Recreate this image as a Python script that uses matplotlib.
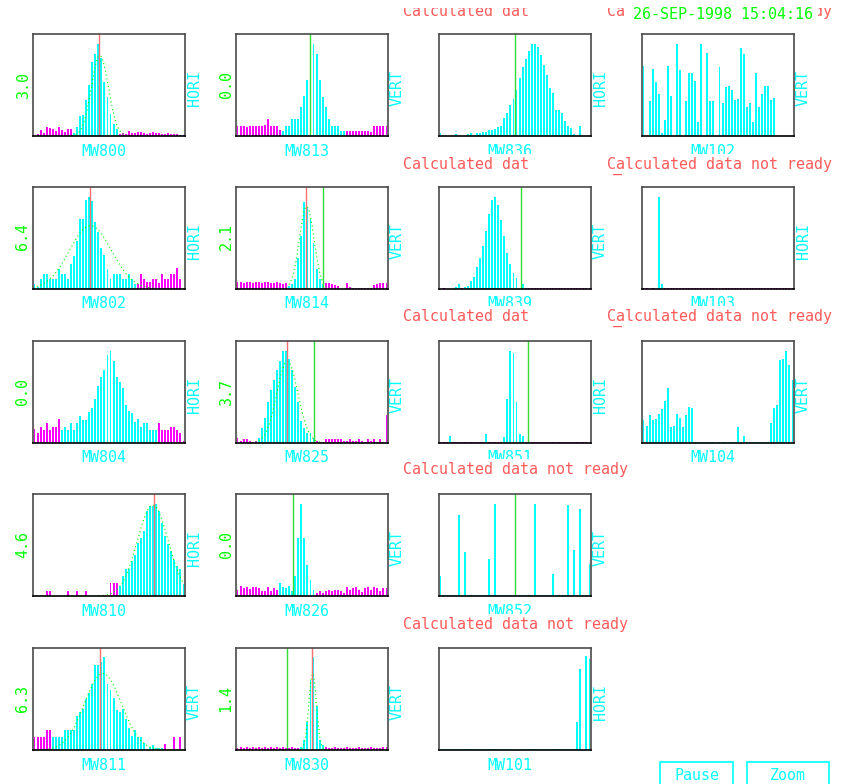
import numpy as np
import matplotlib.pyplot as plt
from matplotlib.patches import Rectangle

W, H = 848, 784
CYAN, MAGENTA, GREEN, RED = '#00ffff', '#ff00ff', '#00ff00', '#ff5a5a'
FONT = 'DejaVu Sans Mono'
FS = 10.8

# bin contents, % of panel height, 50 bins per monitor
MW800 = [0,2,6,3,9,8,7,5,9,6, 4,7,7,3,9,20,21,35,50,73, 80,90,76,53,38,22,12,7,2,3,
         2,5,3,3,4,4,3,2,3,4, 3,3,2,2,3,2,2,2,1,1]
MW802 = [5,2,10,15,15,10,10,10,20,15, 15,10,25,32,47,69,69,87,90,86, 66,56,40,33,20,10,15,15,15,10,
         10,15,10,5,5,15,10,7,7,10, 10,6,15,10,10,15,15,21,10,0]
MW804 = [14,10,16,13,20,13,16,16,24,13, 16,13,20,13,20,26,23,23,30,34, 43,56,65,72,86,90,80,65,60,54,
         37,31,29,21,24,16,20,20,13,13, 13,20,13,13,13,16,16,13,10,2]
MW810 = [0,0,0,0,5,5,0,0,0,0, 0,5,0,0,5,0,0,5,0,0, 0,0,0,0,0,13,13,13,10,20,
         26,26,34,40,52,57,64,83,88,88, 90,83,72,59,51,44,35,29,26,12]
MW811 = [13,13,13,13,20,20,13,13,13,13, 20,20,20,20,33,37,40,50,56,65, 83,83,86,91,65,59,51,39,37,40,
         30,22,14,20,13,13,7,0,3,5, 2,2,2,6,0,0,13,0,13,0]
MW813 = [10,10,10,9,10,10,10,10,10,11, 17,10,10,10,6,5,10,10,17,17, 17,28,39,55,84,90,80,55,38,28,
         17,10,10,10,5,5,5,5,5,5, 5,5,5,5,4,10,10,10,10,10]
MW814 = [7,7,6,7,7,6,7,7,6,7, 7,6,6,7,6,5,6,3,5,10, 30,52,85,80,69,45,20,10,5,6,
         6,5,4,3,0,0,6,2,1,1, 1,1,1,1,1,4,5,6,6,6]
MW825 = [5,2,4,4,2,1,2,5,15,25, 40,52,62,72,80,90,90,82,72,55, 40,22,15,10,10,5,2,1,1,4,
         4,4,4,4,4,2,2,4,2,2, 4,2,1,4,2,4,1,4,1,27]
MW826 = [6,10,8,9,7,9,9,8,5,5, 9,5,8,6,13,9,8,10,5,20, 57,90,57,30,16,6,3,5,3,5,
         6,5,6,6,5,3,9,6,8,9, 6,4,8,9,6,9,8,5,8,8]
MW830 = [2,3,2,3,2,3,2,3,2,3, 2,3,2,3,2,3,2,2,3,2, 2,3,10,27,69,91,43,10,5,3,
         2,2,3,2,2,2,3,2,2,2, 3,2,2,2,3,2,2,2,3,3]
MW836 = [3,0,0,0,0,2,0,0,0,2, 3,0,3,3,4,4,6,6,7,9, 10,18,23,30,36,45,57,68,75,83,
         90,90,87,79,70,60,47,42,25,25, 23,15,10,8,2,0,10,0,0,0]
MW839 = [0,1,0,0,0,2,5,1,2,3, 8,12,22,30,42,57,74,87,90,82, 68,52,35,25,16,11,0,5,1,1,
         1,1,1,1,1,1,1,1,1,1, 1,1,1,1,1,1,1,1,1,1]
MW851 = [1,1,1,7,1,1,1,1,1,1, 1,1,1,1,1,9,1,1,1,1, 1,6,43,90,88,40,9,7,1,1,
         1,1,1,1,1,1,1,1,1,1, 1,1,1,1,1,1,1,1,1,0]
MW852 = [20,1,1,1,1,1,79,1,43,1, 1,1,1,1,1,1,36,1,90,1, 1,1,1,1,1,1,1,1,1,1,
         1,90,1,1,1,1,1,22,1,1, 1,1,89,1,45,1,85,1,1,31]
MW101 = [1,1,1,1,1,1,1,1,1,1, 1,1,1,1,1,1,1,1,1,1, 1,1,1,1,1,1,1,1,1,1,
         1,1,1,1,1,1,1,1,1,1, 1,1,1,1,1,27,79,0,92,89]
MW102 = [69,0,34,66,53,41,3,16,69,39, 0,90,65,0,34,62,62,54,14,90, 0,81,34,34,0,68,32,48,49,45,
         35,36,86,80,28,32,14,62,28,41, 49,49,35,37,0,0,0,0,0,0]
MW103 = [1,1,0,1,0,90,5,1,1,1, 1,1,1,1,1,1,1,1,1,1, 1,1,1,1,1,1,1,1,1,1,
         1,1,1,1,1,1,1,1,1,1, 1,1,1,1,1,1,1,1,1,1]
MW104 = [23,17,27,23,24,28,33,41,54,16, 17,28,25,16,27,35,34,1,1,1, 1,1,1,1,1,1,1,1,1,1,
         1,16,1,7,1,1,1,1,1,1, 1,1,20,34,37,81,82,90,76,62]

# accepted bin window (outside -> magenta)
WINDOW = {'MW800': (13, 28), 'MW802': (0, 34), 'MW804': (9, 41), 'MW810': (28, 50),
          'MW811': (6, 43), 'MW813': (15, 36), 'MW814': (17, 29), 'MW825': (7, 26),
          'MW826': (14, 26), 'MW830': (21, 29), 'MW839': (0, 28), 'MW851': (3, 28),
          'MW103': (0, 7)}

# gaussian fit: centre (bins), sigma (bins), peak (%)
FIT = {'MW800': (22.0, 2.8, 79), 'MW802': (18.9, 6.95, 62), 'MW810': (39.4, 5.1, 89),
       'MW811': (23.0, 6.1, 75), 'MW814': (23.25, 2.4, 81), 'MW825': (16.9, 3.5, 80),
       'MW830': (25.2, 1.25, 75)}
RED_LINE = {'MW800': 21.6, 'MW802': 18.6, 'MW810': 39.7, 'MW811': 22.2,
            'MW814': 23.0, 'MW825': 16.7, 'MW830': 25.1}
GREEN_LINE = {'MW813': 24.4, 'MW814': 28.7, 'MW825': 25.7, 'MW826': 18.8, 'MW830': 16.9,
              'MW836': 24.9, 'MW839': 26.9, 'MW851': 29.2, 'MW852': 24.9}

VALUE_LABEL = {'MW800': '3.0', 'MW802': '6.4', 'MW804': '0.0', 'MW810': '4.6', 'MW811': '6.3',
               'MW813': '0.0', 'MW814': '2.1', 'MW825': '3.7', 'MW826': '0.0', 'MW830': '1.4'}
PLANE = {'MW800': 'HORI', 'MW802': 'HORI', 'MW804': 'HORI', 'MW810': 'HORI', 'MW811': 'VERT',
         'MW813': 'VERT', 'MW814': 'VERT', 'MW825': 'VERT', 'MW826': 'VERT', 'MW830': 'VERT',
         'MW836': 'HORI', 'MW839': 'VERT', 'MW851': 'HORI', 'MW852': 'VERT', 'MW101': 'HORI',
         'MW102': 'VERT', 'MW103': 'HORI', 'MW104': 'VERT'}

COLUMNS = [['MW800', 'MW802', 'MW804', 'MW810', 'MW811'],
           ['MW813', 'MW814', 'MW825', 'MW826', 'MW830'],
           ['MW836', 'MW839', 'MW851', 'MW852', 'MW101'],
           ['MW102', 'MW103', 'MW104']]

DATA = {'MW800': MW800, 'MW802': MW802, 'MW804': MW804, 'MW810': MW810, 'MW811': MW811,
        'MW813': MW813, 'MW814': MW814, 'MW825': MW825, 'MW826': MW826, 'MW830': MW830,
        'MW836': MW836, 'MW839': MW839, 'MW851': MW851, 'MW852': MW852, 'MW101': MW101,
        'MW102': MW102, 'MW103': MW103, 'MW104': MW104}

col_left = [33, 236, 439, 642]
row_top = [34, 187, 341, 494, 648]
pw, ph = 152, 102


def fx(x):
    return x / W


def fy(y):
    return 1 - y / H


fig = plt.figure(figsize=(W / 100, H / 100), dpi=100)
fig.patch.set_facecolor('white')

for c, names in enumerate(COLUMNS):
    for r, name in enumerate(names):
        l, t = col_left[c], row_top[r]
        ax = fig.add_axes([fx(l), fy(t + ph), pw / W, ph / H])
        h = DATA[name]
        n = len(h)
        lo, hi = WINDOW.get(name, (0, n))
        x = np.arange(n) + 0.5
        cols = [CYAN if (lo <= i < hi and (v > 1 or name not in WINDOW)) else MAGENTA
                for i, v in enumerate(h)]
        ax.bar(x, h, width=0.62, color=cols, linewidth=0)
        if name in FIT:
            mu, sig, amp = FIT[name]
            xs = np.linspace(0, n, 150)
            ax.plot(xs, amp * np.exp(-0.5 * ((xs - mu) / sig) ** 2),
                    color=GREEN, lw=0.8, ls=(0, (1, 2.5)))
        if name in GREEN_LINE:
            ax.axvline(GREEN_LINE[name], color='#33dd33', lw=1)
        if name in RED_LINE:
            ax.axvline(RED_LINE[name], color='#ff7070', lw=1)
        ax.set_xlim(0, n)
        ax.set_ylim(0, 100)
        ax.set_xticks([])
        ax.set_yticks([])
        for s in ['top', 'left', 'right']:
            ax.spines[s].set_color('#4a4a4a')
            ax.spines[s].set_linewidth(1.2)
        ax.spines['bottom'].set_color('black')
        ax.spines['bottom'].set_linewidth(1.2)

        fig.text(fx(l + 48), fy(t + ph + 15), name, color=CYAN, family=FONT,
                 fontsize=FS, ha='left', va='center')
        fig.text(fx(l + pw + 9.5), fy(t + ph / 2 + 3), PLANE[name], color=CYAN,
                 family=FONT, fontsize=FS, rotation=90, ha='center', va='center')
        if name in VALUE_LABEL:
            fig.text(fx(l - 10), fy(t + ph / 2 - 1), VALUE_LABEL[name], color=GREEN,
                     family=FONT, fontsize=FS, rotation=90, ha='center', va='center')

# status messages (baseline positions), drawn on a white box over the labels
box = dict(facecolor='white', edgecolor='none', pad=2)
short_msg = [(403, 16), (403, 169), (403, 321)]
long_msg = [(607, 16), (607, 169), (607, 321), (403, 474), (403, 629)]
for x, y in short_msg:
    fig.text(fx(x), fy(y), 'Calculated dat', color=RED, family=FONT, fontsize=FS,
             ha='left', va='baseline', bbox=box, zorder=5)
for x, y in long_msg:
    fig.text(fx(x), fy(y), 'Calculated data not ready', color=RED, family=FONT,
             fontsize=FS, ha='left', va='baseline', bbox=box, zorder=5)
for y in [169, 321]:
    fig.text(fx(613), fy(y + 2), '_', color=RED, family=FONT, fontsize=FS,
             ha='left', va='baseline', zorder=6)

# top strip hides the upper part of the first message line
fig.patches.append(Rectangle((fx(395), fy(7.5)), 1 - fx(395), 7.5 / H + 0.01,
                             transform=fig.transFigure, facecolor='white',
                             edgecolor='none', zorder=6))

fig.text(fx(633), fy(19), '26-SEP-1998 15:04:16', color=GREEN, family=FONT,
         fontsize=FS, ha='left', va='baseline', zorder=7,
         bbox=dict(facecolor='white', edgecolor='none', pad=3.5))

# buttons
for bx, bw, label in [(660, 73, 'Pause'), (747, 82, 'Zoom')]:
    fig.patches.append(Rectangle((fx(bx), -0.01), bw / W, fy(762) + 0.01,
                                 transform=fig.transFigure, fill=False,
                                 edgecolor=CYAN, lw=1.2))
    fig.text(fx(bx + bw / 2), fy(776), label, color=CYAN, family=FONT, fontsize=FS,
             ha='center', va='center')

fig.savefig('out.png', dpi=100)
